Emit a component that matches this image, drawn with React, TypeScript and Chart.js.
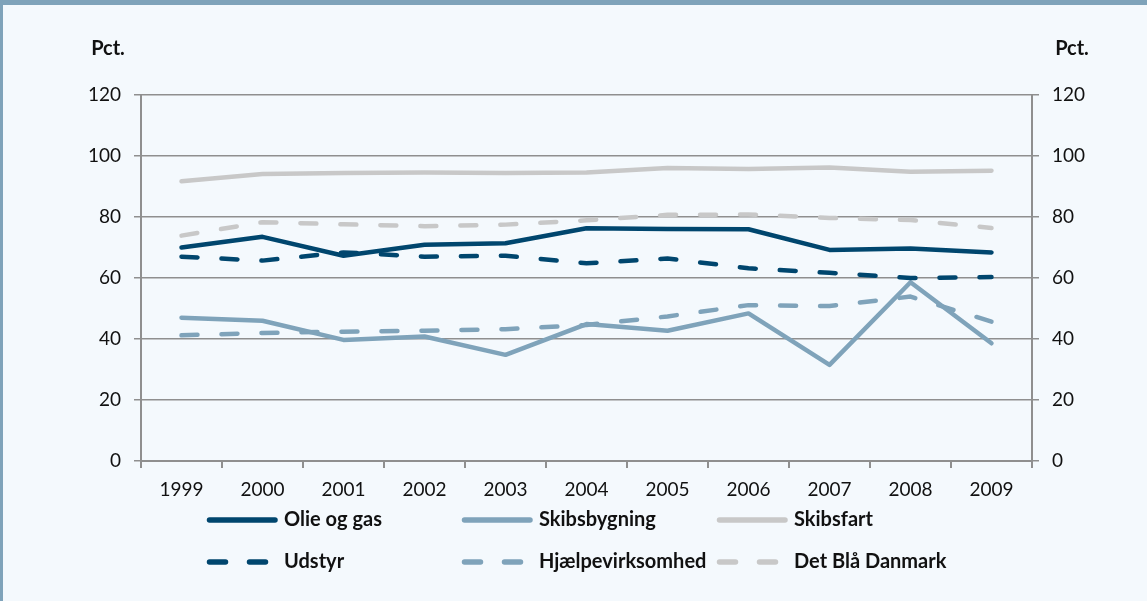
import React, { useEffect, useRef } from "react";
import { Chart, registerables } from "chart.js";

Chart.register(...registerables);

const years = ["1999", "2000", "2001", "2002", "2003", "2004", "2005", "2006", "2007", "2008", "2009"];
const olieOgGas = [70.0, 73.5, 67.3, 70.9, 71.4, 76.3, 76.1, 76.0, 69.2, 69.7, 68.4];
const skibsbygning = [47.0, 46.0, 39.7, 40.8, 34.8, 44.9, 42.7, 48.4, 31.5, 58.6, 38.6];
const skibsfart = [91.7, 94.1, 94.4, 94.6, 94.4, 94.6, 96.1, 95.7, 96.2, 94.8, 95.2];
const udstyr = [67.0, 65.7, 68.4, 67.0, 67.3, 64.8, 66.4, 63.2, 61.7, 60.0, 60.3];
const hjaelpevirksomhed = [41.2, 42.0, 42.4, 42.7, 43.2, 44.6, 47.4, 51.1, 50.8, 53.9, 45.7];
const detBlaaDanmark = [73.9, 78.3, 77.6, 77.0, 77.5, 78.9, 80.7, 80.8, 79.7, 79.0, 76.4];
const yTicks = [0, 20, 40, 60, 80, 100, 120];

const DARK = "#00466e";
const MID = "#7fa3ba";
const LIGHT = "#c8c8c8";
const BG = "#f4f9fd";
const GRID = "#8f8f8f";
const FONT = "Lato";

const legendItems = [
  { label: "Olie og gas", color: DARK, dashed: false, x: 207, y: 520 },
  { label: "Skibsbygning", color: MID, dashed: false, x: 462, y: 520 },
  { label: "Skibsfart", color: LIGHT, dashed: false, x: 717, y: 520 },
  { label: "Udstyr", color: DARK, dashed: true, x: 207, y: 562 },
  { label: "Hjælpevirksomhed", color: MID, dashed: true, x: 462, y: 562 },
  { label: "Det Blå Danmark", color: LIGHT, dashed: true, x: 717, y: 562 },
];

const decorPlugin = {
  id: "decor",
  beforeDraw(chart: any) {
    const ctx = chart.ctx;
    ctx.save();
    ctx.fillStyle = BG;
    ctx.fillRect(0, 0, chart.width, chart.height);
    ctx.fillStyle = MID;
    ctx.fillRect(0, 0, chart.width, 5);
    ctx.fillRect(0, 0, 3, chart.height);
    ctx.restore();
  },
  afterDraw(chart: any) {
    const ctx = chart.ctx;
    ctx.save();
    ctx.fillStyle = "#111";
    ctx.font = `bold 20px ${FONT}`;
    ctx.textAlign = "center";
    ctx.textBaseline = "middle";
    ctx.fillText("Pct.", 108, 49);
    ctx.fillText("Pct.", 1072, 49);

    for (const it of legendItems) {
      ctx.strokeStyle = it.color;
      ctx.lineWidth = 5.5;
      ctx.lineCap = "round";
      ctx.setLineDash(it.dashed ? [16, 24] : []);
      ctx.beginPath();
      ctx.moveTo(it.x + 2.5, it.y);
      ctx.lineTo(it.x + 68, it.y);
      ctx.stroke();
      ctx.setLineDash([]);
      ctx.fillStyle = "#111";
      ctx.font = `bold 20px ${FONT}`;
      ctx.textAlign = "left";
      ctx.textBaseline = "middle";
      ctx.fillText(it.label, it.x + 77, it.y);
    }
    ctx.restore();
  },
};

function ds(label: string, data: number[], color: string, dashed: boolean) {
  return {
    label,
    data,
    borderColor: color,
    backgroundColor: color,
    borderWidth: 4.5,
    borderDash: dashed ? [16, 24] : [],
    borderCapStyle: "round",
    borderJoinStyle: "round",
    pointRadius: 0,
    tension: 0,
    fill: false,
  };
}

export default function App() {
  const ref = useRef<HTMLCanvasElement | null>(null);
  useEffect(() => {
    if (!ref.current) return;
    const yScale = (pos: "left" | "right") => ({
      type: "linear",
      position: pos,
      min: 0,
      max: 120,
      afterBuildTicks: (s: any) => {
        s.ticks = yTicks.map((v) => ({ value: v }));
      },
      afterFit: (s: any) => {
        s.width = pos === "left" ? 141 : 115;
      },
      grid: {
        display: true,
        drawOnChartArea: pos === "left",
        color: GRID,
        lineWidth: 1.5,
        tickLength: 7,
        tickColor: GRID,
      },
      border: { display: true, color: GRID, width: 2 },
      ticks: {
        padding: 13,
        color: "#111",
        font: { family: FONT, size: 19 },
      },
    });
    const chart = new Chart(ref.current, {
      type: "line",
      data: {
        labels: years,
        datasets: [
          ds("Olie og gas", olieOgGas, DARK, false),
          ds("Udstyr", udstyr, DARK, true),
          ds("Skibsbygning", skibsbygning, MID, false),
          ds("Hjælpevirksomhed", hjaelpevirksomhed, MID, true),
          ds("Skibsfart", skibsfart, LIGHT, false),
          ds("Det Blå Danmark", detBlaaDanmark, LIGHT, true),
        ] as any,
      },
      options: {
        responsive: false,
        animation: false,
        devicePixelRatio: 1,
        layout: { padding: { top: 95, left: 0, right: 0, bottom: 0 } },
        plugins: {
          legend: { display: false },
          tooltip: { enabled: false },
          title: { display: false },
        },
        scales: {
          x: {
            type: "category",
            offset: true,
            afterFit: (s: any) => {
              s.height = 140;
            },
            grid: {
              display: true,
              offset: true,
              drawOnChartArea: false,
              tickLength: 7,
              tickColor: GRID,
              lineWidth: 2,
            },
            border: { display: true, color: GRID, width: 2 },
            ticks: {
              padding: 10,
              color: "#111",
              maxRotation: 0,
              autoSkip: false,
              font: { family: FONT, size: 19 },
            },
          },
          y: yScale("left"),
          y2: yScale("right"),
        } as any,
      },
      plugins: [decorPlugin],
    });
    return () => chart.destroy();
  }, []);
  return (
    <div style={{ position: "absolute", left: 0, top: 0, width: 1147, height: 601 }}>
      <canvas ref={ref} width={1147} height={601} style={{ display: "block", width: 1147, height: 601 }} />
    </div>
  );
}
